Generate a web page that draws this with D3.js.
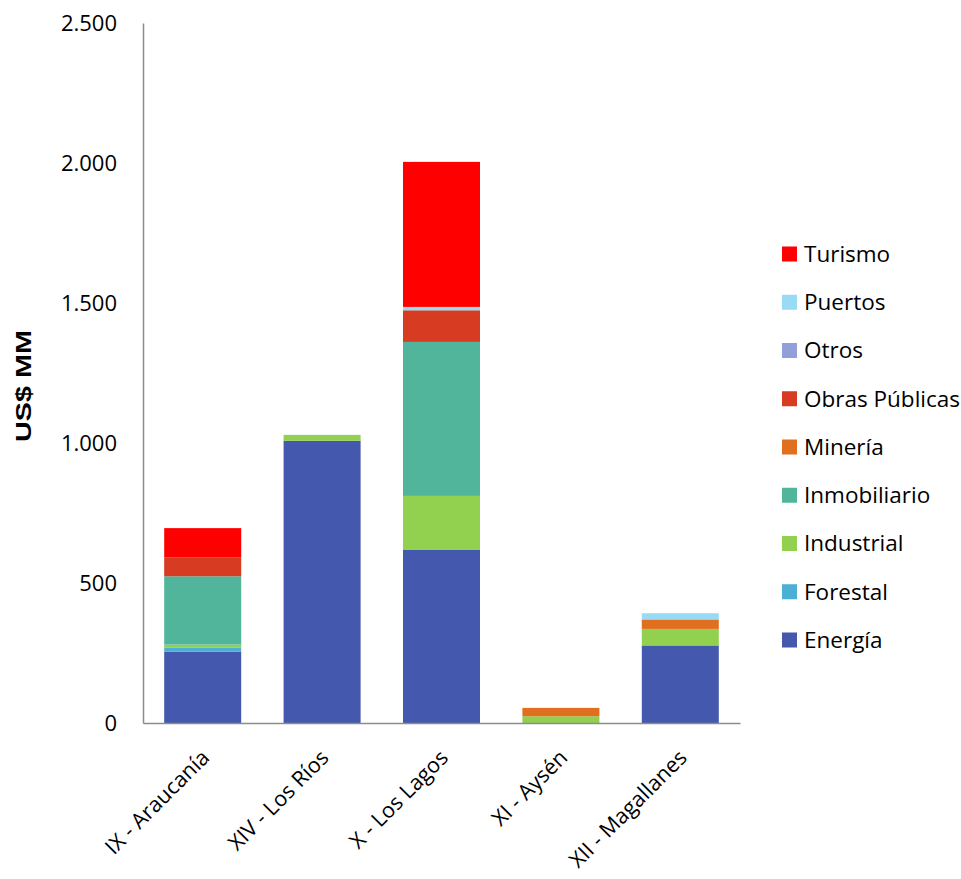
<!DOCTYPE html>
<html><head><meta charset="utf-8">
<script src="https://cdn.jsdelivr.net/npm/d3@7"></script>
<style>body{margin:0;background:#fff;} svg{display:block;font-family:"Open Sans",sans-serif;}</style>
</head><body><svg id="c" width="961" height="879"></svg>
<script>
const categories = ["IX - Araucanía","XIV - Los Ríos","X - Los Lagos","XI - Aysén","XII - Magallanes"];
const seriesNames = ["Energía","Forestal","Industrial","Inmobiliario","Minería","Obras Públicas","Otros","Puertos","Turismo"];
const energia      = [255, 1008, 618, 0, 277];
const forestal     = [15, 0, 0, 0, 0];
const industrial   = [10, 21, 193, 24, 59];
const inmobiliario = [244, 0, 550, 0, 0];
const mineria      = [0, 0, 0, 30, 34];
const obras        = [68, 0, 113, 0, 0];
const otros        = [0, 0, 0, 0, 0];
const puertos      = [0, 0, 12, 0, 22];
const turismo      = [104, 0, 518, 0, 0];
const yTicks = [0, 500, 1000, 1500, 2000, 2500];
const colors = ["#4459AD","#4BAFD6","#92D050","#50B59B","#E0701F","#D73B21","#929FD8","#99DBF5","#FF0000"];

const seriesVals = [energia, forestal, industrial, inmobiliario, mineria, obras, otros, puertos, turismo];
const rows = categories.map((c, i) => {
  const r = {cat: c};
  seriesNames.forEach((s, j) => r[s] = seriesVals[j][i]);
  return r;
});
const stack = d3.stack().keys(seriesNames)(rows);

const svg = d3.select("#c");
const m = {left: 143, right: 740, top: 23, bottom: 723};
const x = d3.scaleBand().domain(categories).range([m.left, m.right]).paddingInner(0.355).paddingOuter(0.1775);
const y = d3.scaleLinear().domain([0, 2500]).range([m.bottom, m.top]);
const color = d3.scaleOrdinal().domain(seriesNames).range(colors);

svg.append("g").selectAll("g").data(stack).join("g")
  .attr("fill", d => color(d.key))
  .selectAll("rect").data(d => d).join("rect")
  .attr("x", d => x(d.data.cat))
  .attr("width", x.bandwidth())
  .attr("y", d => y(d[1]))
  .attr("height", d => Math.max(0, y(d[0]) - y(d[1])));

// y axis
const ya = svg.append("g").attr("transform", `translate(${m.left},0)`)
  .call(d3.axisLeft(y).tickValues(yTicks).tickSize(0).tickPadding(26)
    .tickFormat(d => d3.format(",")(d).replace(/,/g, ".")));
ya.select(".domain").attr("stroke", "#8c8c8c").attr("stroke-width", 1.5);
ya.selectAll("text").attr("font-size", 22).attr("fill", "#000").attr("font-family", "'Open Sans', sans-serif");

// x axis
const xa = svg.append("g").attr("transform", `translate(0,${m.bottom})`)
  .call(d3.axisBottom(x).tickSize(0).tickFormat(""));
xa.select(".domain").attr("stroke", "#8c8c8c").attr("stroke-width", 1.5);

svg.append("g").selectAll("text").data(categories).join("text")
  .attr("transform", d => `translate(${x(d) + x.bandwidth()/2 + 8},${m.bottom + 36}) rotate(-45)`)
  .attr("text-anchor", "end")
  .attr("font-size", 21.5)
  .attr("fill", "#000")
  .text(d => d);

// y label
svg.append("text")
  .attr("transform", `translate(31,386) rotate(-90)`)
  .attr("text-anchor", "middle")
  .attr("font-family", "'Liberation Sans', Arial, sans-serif")
  .attr("font-weight", "bold")
  .attr("font-size", 22)
  .attr("textLength", 112)
  .attr("lengthAdjust", "spacingAndGlyphs")
  .text("US$ MM");

// legend
const legendOrder = seriesNames.slice().reverse();
const lg = svg.append("g").selectAll("g").data(legendOrder).join("g")
  .attr("transform", (d, i) => `translate(782,${254 + i * 48.25})`);
lg.append("rect").attr("x", 0).attr("y", -7.5).attr("width", 15).attr("height", 15).attr("fill", d => color(d));
lg.append("text").attr("x", 22).attr("dy", "0.35em").attr("font-size", 22.5).attr("fill", "#000").text(d => d);
</script></body></html>
